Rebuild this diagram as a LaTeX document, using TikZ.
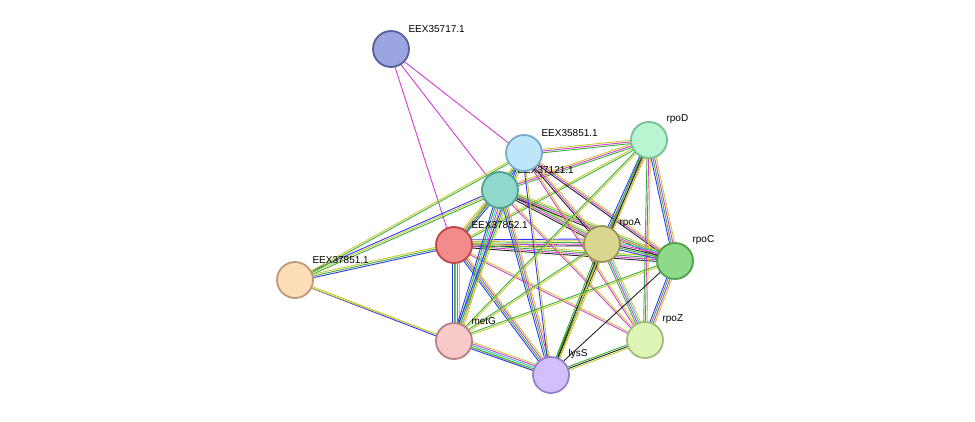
\documentclass[tikz,border=0pt]{standalone}
\usepackage{fontspec}
\setmainfont{Liberation Sans}
\usetikzlibrary{calc,backgrounds}
\definecolor{tm}{HTML}{C8C832}
\definecolor{ce}{HTML}{222222}
\definecolor{ex}{HTML}{D23CD2}
\definecolor{db}{HTML}{3AC8C8}
\definecolor{nb}{HTML}{3AB03A}
\definecolor{co}{HTML}{3434F0}
\newcommand\lnk[3]{\foreach \c [count=\i] in {#3}{\draw[\c,line width=.9pt] ($(#1.center)!{(\i-2)*1.7pt}!90:(#2.center)$) -- ($(#2.center)!{(\i-2)*1.7pt}!-90:(#1.center)$);}}
\begin{document}
\begin{tikzpicture}[x=1pt,y=-1pt]
\tikzstyle{prot}=[circle, minimum size=36pt, line width=1.8pt]
\tikzstyle{lbl}=[font=\fontsize{10}{11}\selectfont, inner sep=0pt, anchor=south west, xshift=4pt, yshift=3pt]
\useasboundingbox (0,0) rectangle (975,421);
  \node[prot, fill={rgb,255:red,155;green,166;blue,224}, draw={rgb,255:red,85;green,96;blue,154}] (e35717) at (391,49) {};
  \node[lbl] at (e35717.45) {EEX35717.1};
  \node[prot, fill={rgb,255:red,143;green,217;blue,204}, draw={rgb,255:red,80;green,160;blue,148}] (e37121) at (500,190) {};
  \node[lbl] at (e37121.45) {EEX37121.1};
  \node[prot, fill={rgb,255:red,189;green,230;blue,250}, draw={rgb,255:red,120;green,170;blue,200}] (e35851) at (524,153) {};
  \node[lbl] at (e35851.45) {EEX35851.1};
  \node[prot, fill={rgb,255:red,242;green,139;blue,139}, draw={rgb,255:red,190;green,70;blue,70}] (e37852) at (454,245) {};
  \node[lbl] at (e37852.45) {EEX37852.1};
  \node[prot, fill={rgb,255:red,253;green,220;blue,184}, draw={rgb,255:red,190;green,155;blue,120}] (e37851) at (295,280) {};
  \node[lbl] at (e37851.45) {EEX37851.1};
  \node[prot, fill={rgb,255:red,247;green,201;blue,201}, draw={rgb,255:red,180;green,130;blue,130}] (metG) at (454,341) {};
  \node[lbl] at (metG.45) {metG};
  \node[prot, fill={rgb,255:red,210;green,192;blue,250}, draw={rgb,255:red,150;green,130;blue,200}] (lysS) at (551,375) {};
  \node[lbl] at (lysS.45) {lysS};
  \node[prot, fill={rgb,255:red,217;green,214;blue,143}, draw={rgb,255:red,150;green,150;blue,90}] (rpoA) at (602,244) {};
  \node[lbl] at (rpoA.45) {rpoA};
  \node[prot, fill={rgb,255:red,184;green,245;blue,208}, draw={rgb,255:red,120;green,190;blue,150}] (rpoD) at (649,140) {};
  \node[lbl] at (rpoD.45) {rpoD};
  \node[prot, fill={rgb,255:red,143;green,217;blue,138}, draw={rgb,255:red,80;green,160;blue,75}] (rpoC) at (675,261) {};
  \node[lbl] at (rpoC.45) {rpoC};
  \node[prot, fill={rgb,255:red,223;green,245;blue,184}, draw={rgb,255:red,160;green,190;blue,120}] (rpoZ) at (645,340) {};
  \node[lbl] at (rpoZ.45) {rpoZ};

\begin{pgfonlayer}{background}
  \lnk{e35717}{e37852}{ex}
  \lnk{e35717}{e35851}{ex}
  \lnk{e35717}{e37121}{ex}
  \lnk{e37851}{e37121}{nb,tm,co}
  \lnk{e37851}{e35851}{nb,tm}
  \lnk{e37851}{e37852}{co,nb,tm}
  \lnk{e37851}{metG}{co,tm}
  \lnk{e37851}{lysS}{tm}
  \lnk{e37852}{metG}{co,nb,db,ex,tm}
  \lnk{e37852}{lysS}{co,nb,ex,tm}
  \lnk{e37852}{rpoA}{ce,ex,nb,tm,co}
  \lnk{e37852}{rpoC}{ce,ex,nb,tm}
  \lnk{e37852}{rpoZ}{ex,tm}
  \lnk{e37852}{e37121}{co,nb,ex,tm}
  \lnk{e37852}{e35851}{nb,tm}
  \lnk{e37852}{rpoD}{nb,tm}
  \lnk{e37121}{metG}{co,nb,db,ex,tm}
  \lnk{e37121}{lysS}{co,nb,ex,tm}
  \lnk{e37121}{rpoA}{ce,ex,nb,tm}
  \lnk{e37121}{rpoC}{ce,ex,nb,tm}
  \lnk{e37121}{rpoZ}{ex,tm}
  \lnk{e37121}{rpoD}{nb,ex,tm}
  \lnk{e37121}{e35851}{co,nb,tm}
  \lnk{e35851}{rpoA}{ce,ex,tm}
  \lnk{e35851}{rpoC}{ce,ex,tm}
  \lnk{e35851}{rpoD}{nb,ex,tm}
  \lnk{e35851}{metG}{co,nb,tm}
  \lnk{e35851}{lysS}{co,tm}
  \lnk{e35851}{rpoZ}{ex,tm}
  \lnk{rpoD}{rpoA}{co,nb,ex,tm}
  \lnk{rpoD}{rpoC}{co,nb,ex,tm}
  \lnk{rpoD}{rpoZ}{nb,ex,tm}
  \lnk{rpoD}{metG}{nb,tm}
  \lnk{rpoD}{lysS}{nb,ce,tm}
  \lnk{rpoA}{rpoC}{co,nb,ce,ex,db,tm}
  \lnk{rpoA}{rpoZ}{nb,ex,db,tm}
  \lnk{rpoA}{metG}{nb,tm}
  \lnk{rpoA}{lysS}{nb,ce,tm}
  \lnk{rpoC}{rpoZ}{co,nb,ex,tm}
  \lnk{rpoC}{metG}{nb,tm}
  \lnk{rpoC}{lysS}{ce}
  \lnk{rpoZ}{lysS}{nb,ce,tm}
  \lnk{metG}{lysS}{co,nb,db,ex,tm}
\end{pgfonlayer}
\end{tikzpicture}
\end{document}
